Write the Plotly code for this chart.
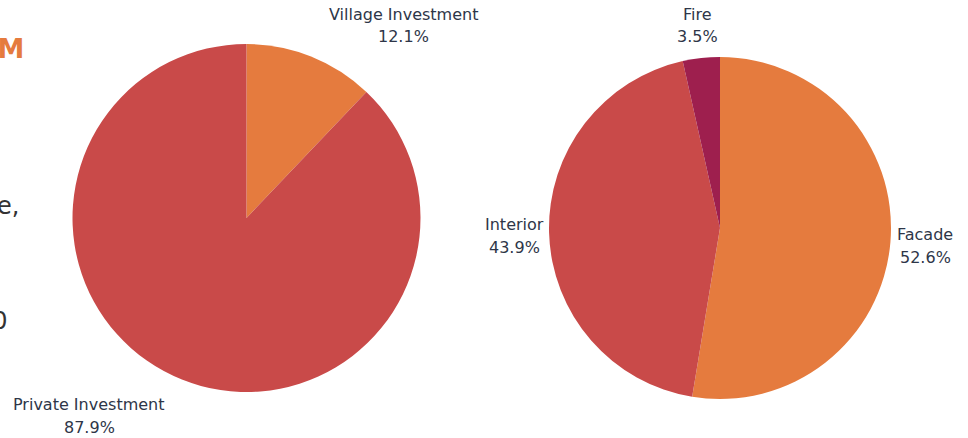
import plotly.graph_objects as go

# data
funding_labels = ["Village Investment", "Private Investment"]
funding_values = [12.1, 87.9]
work_labels = ["Facade", "Interior", "Fire"]
work_values = [52.6, 43.9, 3.5]

ORANGE = "#E57B3E"
RED = "#C94A49"
MAROON = "#9E1F4E"
TEXT = "#2E3648"
FONT = "DejaVu Sans"

W, H = 968, 438

def dom(cx, cy, r):
    return dict(x=[(cx - r) / W, (cx + r) / W], y=[(H - cy - r) / H, (H - cy + r) / H])

fig = go.Figure()
fig.add_trace(go.Pie(
    labels=funding_labels, values=funding_values, sort=False, direction="clockwise",
    rotation=0, marker=dict(colors=[ORANGE, RED], line=dict(width=0)),
    textinfo="none", hoverinfo="label+percent", showlegend=False,
    domain=dom(246.5, 218, 174),
))
fig.add_trace(go.Pie(
    labels=work_labels, values=work_values, sort=False, direction="clockwise",
    rotation=0, marker=dict(colors=[ORANGE, RED, MAROON], line=dict(width=0)),
    textinfo="none", hoverinfo="label+percent", showlegend=False,
    domain=dom(720, 228, 171),
))

def pct(vals, i):
    return f"{vals[i] / sum(vals) * 100:.1f}%"

label_pos = [
    (funding_labels, funding_values, 0, 403, 14),
    (funding_labels, funding_values, 1, 89, 404),
    (work_labels, work_values, 0, 925, 234),
    (work_labels, work_values, 1, 514, 224),
    (work_labels, work_values, 2, 697, 14),
]
annotations = []
for labs, vals, i, px, py in label_pos:
    for j, t in enumerate([labs[i], pct(vals, i)]):
        annotations.append(dict(
            text=t, x=px / W, y=1 - (py + 23 * j) / H,
            xref="paper", yref="paper", xanchor="center", yanchor="middle",
            showarrow=False, align="center",
            font=dict(family=FONT, size=16, color=TEXT),
        ))

# clipped text from the adjoining column
annotations += [
    dict(text="<b>PROGRAM</b>", x=26 / W, y=1 - 49 / H, xref="paper", yref="paper",
         xanchor="right", yanchor="middle", showarrow=False,
         font=dict(family=FONT, size=27, color=ORANGE)),
    dict(text="private investment in the village core,", x=21 / W, y=1 - 206 / H,
         xref="paper", yref="paper", xanchor="right", yanchor="middle", showarrow=False,
         font=dict(family=FONT, size=24, color="#333333")),
    dict(text="more than $100,000", x=9 / W, y=1 - 321 / H,
         xref="paper", yref="paper", xanchor="right", yanchor="middle", showarrow=False,
         font=dict(family=FONT, size=24, color="#333333")),
]

fig.update_layout(
    width=W, height=H, margin=dict(l=0, r=0, t=0, b=0),
    paper_bgcolor="white", plot_bgcolor="white",
    annotations=annotations, font=dict(family=FONT, color=TEXT),
)
fig.write_html("out.html", config={"displayModeBar": False},
               post_script="document.body.style.margin='0px';")
